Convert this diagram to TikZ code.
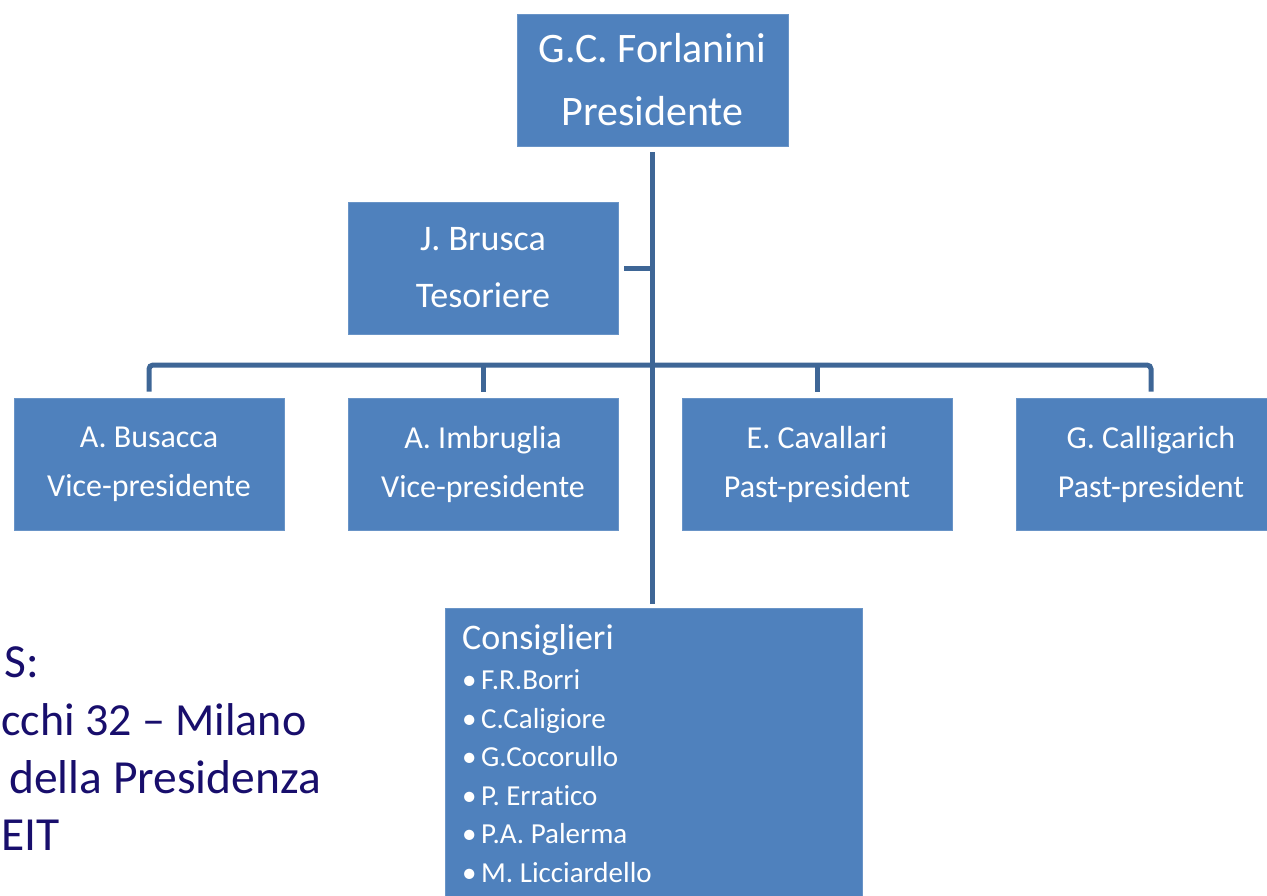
\documentclass[tikz,border=0pt]{standalone}
\usepackage{fontspec}
\setmainfont[Ligatures=NoCommon]{Carlito}
\usepackage{tikz}
\usetikzlibrary{positioning,calc}
\definecolor{boxblue}{RGB}{79,129,189}
\definecolor{linkblue}{RGB}{62,102,150}
\definecolor{navytext}{RGB}{24,14,108}

\begin{document}
\begin{tikzpicture}[x=1pt,y=-1pt,
    member/.style={draw=boxblue!85!white, line width=0.8pt, fill=boxblue, text=white,
      minimum width=270pt, minimum height=132pt, align=center, inner sep=0pt},
    link/.style={draw=linkblue, line width=5pt},
    note/.style={text=navytext, anchor=base west, inner sep=0pt,
      font=\fontsize{47.5}{58}\selectfont}]
    \useasboundingbox (0,0) rectangle (1267,895);
    \clip (0,0) rectangle (1267,895);
    % president
    \node[member, minimum width=271pt, font=\fontsize{42}{63}\selectfont] (pres) at (652.5,80)
      {G.C. Forlanini\\Presidente};
    % treasurer
    \node[member, font=\fontsize{36}{57}\selectfont] (tes) at (483,268) {J. Brusca\\Tesoriere};
    % vice and past presidents
    \node[member, font=\fontsize{32}{49}\selectfont] (vp1) at (149,464) {A. Busacca\\Vice-presidente};
    \node[member, font=\fontsize{32}{49}\selectfont] (vp2) at (483,464) {A. Imbruglia\\Vice-presidente};
    \node[member, font=\fontsize{32}{49}\selectfont] (pp1) at (817,464) {E. Cavallari\\Past-president};
    \node[member, font=\fontsize{32}{49}\selectfont] (pp2) at (1151,464) {G. Calligarich\\Past-president};
    % councillors
    \node[member, anchor=north west, minimum width=417pt, minimum height=300pt] (cons) at (445,608) {};
    \node[text=white, anchor=north west, align=left, inner sep=0pt,
      font=\fontsize{29}{38.5}\selectfont] (conslist) at (462,624)
      {{\fontsize{36}{40}\selectfont Consiglieri}\\[2pt]
       \makebox[19pt][l]{•}F.R.Borri\\
       \makebox[19pt][l]{•}C.Caligiore\\
       \makebox[19pt][l]{•}G.Cocorullo\\
       \makebox[19pt][l]{•}P. Erratico\\
       \makebox[19pt][l]{•}P.A. Palerma\\
       \makebox[19pt][l]{•}M. Licciardello};
    % connectors
    \coordinate (bus) at (652,365);
    \draw[link] ([yshift=-6pt]pres.south) -- ([yshift=4pt]pres.south |- cons.north);
    \draw[link] ([xshift=6pt]tes.east) -- (tes.east -| pres.south);
    \draw[link, rounded corners=4pt] ([yshift=6pt]vp1.north) -- (vp1.north |- bus)
      -- (pp2.north |- bus) -- ([yshift=6pt]pp2.north);
    \draw[link] ([yshift=6pt]vp2.north) -- (vp2.north |- bus);
    \draw[link] ([yshift=6pt]pp1.north) -- (pp1.north |- bus);
    % address text, at the left edge
    \node[note] (adr1) at (4,677) {S:};
    \node[note, font=\fontsize{46}{58}\selectfont] (adr2) at (1,735) {cchi 32 – Milano};
    \node[note] (adr3) at (9,793) {della Presidenza};
    \node[note] (adr4) at (1,850) {EIT};
\end{tikzpicture}
\end{document}
